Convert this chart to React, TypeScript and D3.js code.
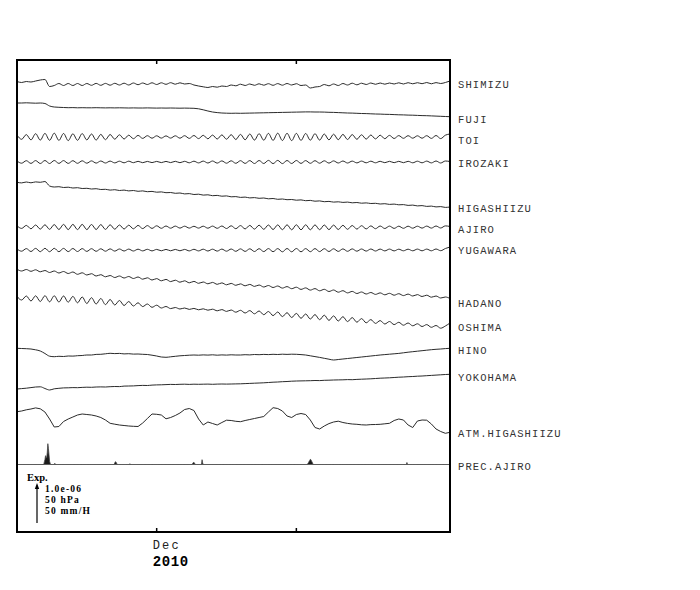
import React from 'react';
import * as d3 from 'd3';

// ---- time axis ----
const START = new Date(2010, 10, 21, 0, 0);
const END = new Date(2010, 11, 22, 0, 0);
const STEP_HOURS = 8;
const tickDates = [new Date(2010, 11, 1), new Date(2010, 11, 11)];
const monthLabel = 'Dec';
const yearLabel = '2010';

// ---- scale bar ----
const scaleTitle = 'Exp.';
const scaleLabels = ['1.0e-06', '50 hPa', '50 mm/H'];
const SCALE_UNITS = 40; // series values are in units of 1/40 of the scale bar

// ---- station names ----
const stations = ['SHIMIZU', 'FUJI', 'TOI', 'IROZAKI', 'HIGASHIIZU', 'AJIRO', 'YUGAWARA', 'HADANO', 'OSHIMA', 'HINO', 'YOKOHAMA', 'ATM.HIGASHIIZU', 'PREC.AJIRO'];

// ---- series (8-hourly samples) ----
const shimizu = [
  3.5, 2.5, 3.5, 3, 4, 5, 5.5, -1.5, -0.5, 1.5,
  -0.5, 1.5, -0.5, 1.5, -0.5, 1.5, -0.3, 1.6, -0.3, 1.6,
  -0.2, 1.7, 0, 1.8, 0, 2, 0.3, 2, 0.5, 2.2,
  0.5, 2.2, 0.7, 2.3, 0.8, 2.2, 1, 1.5, 0, -1,
  -1.8, -2.5, -1.5, -2.2, -1, -1.5, 0, -0.8, 0.8, -0.5,
  1, -0.3, 1.2, -0.2, 1.3, -0.3, 1.4, -0.2, 1.5, 0,
  1.3, -0.5, 0, -3, -2, -1.5, 0.5, -0.8, 1, -0.5,
  1.5, 0, 1.8, 0.2, 1.8, 0.5, 2, 0.7, 2, 0.8,
  2, 1, 2.2, 1, 2.3, 1.2, 2.3, 1.3, 2.5, 1.2,
  2.4, 1.5, 2.5, 4,
];
const fuji = [
  -1, -1, -0.8, -1, -1.2, -1, -1.5, -4, -5, -5.3,
  -5.5, -5.7, -5.6, -5.8, -5.7, -5.8, -5.8, -5.7, -5.8, -5.9,
  -5.8, -5.9, -5.8, -5.9, -6, -5.9, -6, -6, -5.9, -6,
  -6.1, -6, -6.1, -6, -6.1, -6.2, -6.1, -6.2, -6.3,
  -6.8, -7.8, -9, -10, -10.6, -11, -11.2,
  -11.3, -11.2, -11.3, -11.2,
  -11.1, -11, -10.9, -10.8, -10.7, -10.6, -10.5, -10.4, -10.3, -10.2,
  -10.1, -10, -9.9, -9.9, -10, -10,
  -10.1, -10.3, -10.4, -10.6, -10.8, -11, -11.1, -11.3, -11.5, -11.6,
  -11.8, -12, -12.1, -12.3, -12.4, -12.6, -12.8, -12.9, -13.1, -13.2,
  -13.4, -13.6, -13.7, -13.9, -14.1, -14.3, -14.5, -14.7,
];
const toi = [
  2, -2.3, 2.4, -2.9, 3.3, -3.1, 3.6, -3.3, 3.8, -3.4,
  3.5, -3.6, 3.2, -3.3, 3.4, -2.9, 3, -3.1, 2.6, -2.7,
  2.5, -2.2, 2.2, -2, 1.8, -1.7, 1.6, -1.4, 1.3, -1.2,
  1.2, -1.1, 1.1, -1.1, 1.2, -1.2, 1.3, -1.4, 1.5, -1.6,
  1.7, -1.8, 1.9, -2, 2.1, -2.2, 2.3, -2.5, 2.6, -2.8,
  3, -3.1, 3.3, -3.2, 3.6, -3.4, 3.8, -3.5, 3.7, -3.6,
  3.6, -3.4, 3.5, -3.2, 3.3, -3.1, 3, -2.9, 2.8, -2.7,
  2.6, -2.5, 2.4, -2.3, 2.2, -2.1, 2, -1.9, 1.8, -1.7,
  1.6, -1.5, 1.4, -1.3, 1.3, -1.2, 1.2, -1.2, 1.3, -1.4,
  1.5, -1.6, 1.8, 3,
];
const irozaki = [
  1, -1.2, 1.3, -1.4, 1.4, -1.5, 1.5, -1.5, 1.5, -1.4,
  1.4, -1.4, 1.3, -1.3, 1.2, -1.2, 1.1, -1.1, 1, -1,
  0.9, -0.9, 0.8, -0.8, 0.8, -0.7, 0.7, -0.7, 0.6, -0.6,
  0.6, -0.6, 0.6, -0.6, 0.7, -0.7, 0.7, -0.8, 0.8, -0.9,
  0.9, -1, 1, -1.1, 1.1, -1.2, 1.2, -1.3, 1.3, -1.4,
  1.4, -1.5, 1.5, -1.5, 1.6, -1.6, 1.6, -1.6, 1.5, -1.5,
  1.5, -1.4, 1.4, -1.3, 1.3, -1.2, 1.2, -1.1, 1.1, -1,
  1, -1, 0.9, -0.9, 0.9, -0.8, 0.8, -0.8, 0.7, -0.7,
  0.7, -0.7, 0.7, -0.7, 0.7, -0.8, 0.8, -0.8, 0.9, -0.9,
  1, -1, 1, 0.5,
];
const higashiizu = [
  0.2, -0.4, 0.5, -0.3, 0.6, 0.2, 1, -3.5, -4.5, -4.2,
  -5, -4.7, -5.5, -5.2, -6, -5.8, -6.5, -6.2, -7, -6.8,
  -7.6, -7.2, -8, -7.6, -8.4, -8, -8.8, -8.4, -9.2, -8.9,
  -9.7, -9.4, -10.2, -10, -10.8, -10.5, -11.4, -11.1, -12, -11.7,
  -12.6, -12.3, -13.2, -12.9, -13.7, -13.4, -14.3, -14.1, -14.9, -14.6,
  -15.4, -15.1, -15.8, -15.5, -16.3, -16, -16.8, -16.5, -17.2, -17,
  -17.7, -17.4, -18.2, -17.9, -18.7, -18.4, -19.2, -18.9, -19.6, -19.3,
  -19.9, -19.6, -20.3, -20, -20.7, -20.4, -21, -20.8, -21.5, -21.2,
  -21.9, -21.6, -22.3, -22.1, -22.9, -22.6, -23.4, -23.1, -23.9, -23.6,
  -24.4, -24.1, -24.9, -24.5,
];
const ajiro = [
  1.2, -1.4, 1.6, -1.8, 2, -2.1, 2.2, -2.3, 2.4, -2.5,
  2.6, -2.6, 2.6, -2.6, 2.6, -2.6, 2.5, -2.5, 2.4, -2.4,
  2.2, -2.2, 2, -2, 1.8, -1.8, 1.6, -1.6, 1.4, -1.4,
  1.2, -1.3, 1, -1.2, 0.9, -1.1, 0.8, -1.1, 0.7, -1.1,
  0.8, -1.2, 0.9, -1.3, 1, -1.5, 1.2, -1.7, 1.4, -1.9,
  1.6, -2.1, 1.8, -2.3, 2, -2.5, 2.1, -2.7, 2.2, -2.8,
  2.2, -2.8, 2.2, -2.8, 2.1, -2.7, 2, -2.6, 1.9, -2.5,
  1.7, -2.3, 1.5, -2.1, 1.3, -1.9, 1.1, -1.7, 1, -1.5,
  0.9, -1.4, 0.8, -1.3, 0.8, -1.2, 0.8, -1.1, 0.9, -1.1,
  1, -1, 1.1, 0.5,
];
const yugawara = [
  1, -1.2, 1.4, -1.5, 1.6, -1.7, 1.7, -1.7, 1.7, -1.7,
  1.6, -1.6, 1.5, -1.5, 1.4, -1.4, 1.3, -1.3, 1.2, -1.2,
  1.1, -1.1, 1, -1, 0.9, -1, 0.8, -0.9, 0.7, -0.9,
  0.6, -0.8, 0.6, -0.8, 0.6, -0.8, 0.6, -0.9, 0.7, -0.9,
  0.8, -1, 0.8, -1.1, 0.9, -1.2, 1, -1.3, 1.1, -1.4,
  1.2, -1.5, 1.3, -1.6, 1.4, -1.7, 1.4, -1.8, 1.5, -1.8,
  1.5, -1.8, 1.4, -1.7, 1.4, -1.6, 1.3, -1.5, 1.2, -1.4,
  1.1, -1.3, 1.1, -1.2, 1, -1.1, 1, -1, 0.9, -0.9,
  0.9, -0.9, 0.8, -0.8, 0.8, -0.8, 0.9, -0.8, 0.9, -0.8,
  1, -0.7, 1.5, 3,
];
const hadano = [
  0.8, -1, 0.5, -1.3, 0.2, -1.8, -0.5, -2.5, -1, -3,
  -1.5, -3.5, -2, -4.3, -2.8, -5, -3.7, -6, -4.7, -6.8,
  -5.5, -7.5, -6, -8, -6.5, -8.5, -7, -9.2, -7.8, -10,
  -8.6, -10.8, -9.4, -11.6, -10.2, -12.2, -10.8, -12.8, -11.4, -13.3,
  -12, -13.8, -12.4, -14.3, -12.9, -14.8, -13.4, -15.3, -13.9, -15.8,
  -14.4, -16.4, -15, -17, -15.5, -17.5, -16, -18.1, -16.6, -18.7,
  -17.2, -19.4, -17.9, -20.1, -18.6, -20.8, -19.3, -21.5, -20, -22.2,
  -20.7, -22.9, -21.4, -23.5, -22, -24, -22.5, -24.4, -22.9, -24.8,
  -23.3, -25.2, -23.7, -25.6, -24.1, -26, -24.6, -26.5, -25.2, -27.2,
  -26, -28, -27, -28.5,
];
const oshima = [
  1.5, -2, 2, -3, 2.2, -3.5, 2.3, -3.8, 2.2, -4,
  2, -4.2, 1.6, -4.8, 1, -5.5, 0.3, -6, -0.5, -6.6,
  -1.5, -7, -2.5, -7.5, -3.5, -8, -4.8, -8.6, -6, -9.3,
  -7.2, -10, -8.5, -10.6, -9.5, -11, -10, -11.4, -10.4, -11.8,
  -10.8, -12.2, -11.2, -12.8, -11.6, -13.4, -12, -14.2, -12.3, -15,
  -12.6, -15.8, -13, -16.7, -13.5, -17.6, -14, -18.6, -14.7, -19.5,
  -15.4, -20.3, -16, -21, -16.6, -21.7, -17.2, -22.4, -17.9, -23,
  -18.7, -23.6, -19.6, -24.2, -20.6, -24.8, -21.6, -25.4, -22.6, -26,
  -23.5, -26.6, -24.3, -27.2, -25, -27.8, -25.8, -28.5, -26.6, -29.3,
  -27.5, -30.2, -28, -25,
];
const hino = [
  0.7, 0.5, 0.3, 0, -0.8, -2, -4.5, -7.2, -7.7, -7.3,
  -7.5, -7, -7.1, -6.7, -6.5, -6, -6, -5.4, -5.3, -4.8,
  -4.3, -4.6, -4.4, -4.9, -4.7, -5.1, -5, -5.3, -5.5, -6.2,
  -7, -8, -8.3, -7.8, -7.3, -6.8, -6.5, -6.2, -6, -6.2,
  -5.9, -6.1, -5.8, -6.2, -5.9, -6.1, -5.8, -6, -6, -5.7,
  -5.9, -5.5, -5.7, -5.4, -5.6, -5.3, -5.5, -5.2, -5.4, -5.2,
  -5.3, -5.6, -6, -6.8, -7.6, -8.4, -9.3, -10.2, -11, -10.5,
  -10, -9.5, -9, -8.5, -8, -7.5, -7, -6.5, -6, -5.6,
  -5.2, -4.8, -4.4, -3.8, -3.2, -2.7, -2.2, -1.7, -1.2, -0.7,
  -0.3, 0, 0.4, 0.7,
];
const yokohama = [
  -1, -0.6, -0.2, 0.4, 1, 1.2, -0.5, -2, -0.8, -0.3,
  0.1, 0.2, 0.4, 0.3, 0.6, 0.8, 0.7, 1, 1.1, 1,
  1.3, 1.5, 1.4, 1.9, 2, 2.1, 2.4, 2.6, 2.5, 2.9,
  3.1, 3.2, 3.4, 3.6, 3.5, 3.7, 3.8, 3.6, 3.8, 3.7,
  3.8, 3.9, 3.7, 3.9, 4, 3.9, 4, 4.1, 4.2, 4.4,
  4.6, 4.8, 5, 5.2, 5.5, 5.8, 6, 6.3, 6.5, 6.8,
  7, 7.1, 7.2, 7.3, 7.5, 7.4, 7.7, 7.8, 8, 8.1,
  8.2, 8.4, 8.3, 8.6, 8.8, 9, 9.2, 9.5, 9.8, 10,
  10.2, 10.5, 10.8, 11, 11.3, 11.5, 11.8, 12, 12.3, 12.6,
  12.9, 13.2, 13.5, 13.7,
];
const atmHigashiizu = [
  8.3, 9, 10.2, 11, 12.1, 11.2, 8, 1, -7, -6.5,
  -1.5, 1, 3, 5, 6, 5.5, 5, 4, 2.5, 0,
  -3.3, -4.2, -5, -5.5, -6, -6.3, -6.5, -3, 1.5, 6,
  5.7, 5, 1.2, 2.5, 4.5, 7, 10.5, 11.5, 9.5, 1,
  -5, -2, -3.5, -5, -2.5, -0.2, -0.5, -1.3, -1.7, -0.5,
  0.5, 1.5, 2.5, 3.5, 8, 12.3, 11.5, 9, 4, 2.5,
  5.5, 6.5, 5.5, 0, -7.5, -9, -6, -3.6, -2, -1.2,
  -2.5, -3.4, -4, -4.3, -4.8, -5, -4.6, -4.5, -4.3, -3.8,
  -3.3, -0.5, 1, 0, -5, -7.5, -1, 0, -0.2, -4,
  -9, -11.5, -13.3, -12.3,
];

// ---- precipitation (hourly, mm/H; hours from start, zero elsewhere) ----
const precHours = [47, 48, 49, 50, 51, 52, 53, 54, 55, 56, 57, 65, 168, 169, 170, 171, 194, 302, 303, 304, 305, 318, 319, 500, 501, 502, 503, 504, 505, 506, 507, 508, 670];
const precValues = [3.5, 6, 11, 9, 8, 15, 26, 20, 12, 4, 1.5, 1.5, 2, 3.5, 3, 2, 1, 1.5, 2.5, 2.5, 2, 6, 2, 1.5, 2.5, 4, 5, 6.5, 6, 4.5, 3, 1.5, 2.5];

const seriesList = [shimizu, fuji, toi, irozaki, higashiizu, ajiro, yugawara, hadano, oshima, hino, yokohama, atmHigashiizu];

export default function App() {
  const W = 700, H = 590;
  const left = 17, right = 450, top = 60, bottom = 532;
  const baseY = [85, 102, 137, 162, 182.5, 227, 250, 270, 298, 349, 388, 420];
  const precBase = 464.5;
  const labelY = [87.5, 122.7, 143.5, 166.7, 211.7, 233.3, 254.3, 306.7, 330.7, 354, 380.7, 437.3, 470];
  const barLen = 40;

  const x = d3.scaleTime().domain([START, END]).range([left, right]);
  const unitPx = d3.scaleLinear().domain([0, SCALE_UNITS]).range([0, barLen]);
  const precPx = d3.scaleLinear().domain([0, 50]).range([0, barLen]);
  const tAt = (i: number, stepH: number) => new Date(START.getTime() + i * stepH * 3600 * 1000);

  const paths = seriesList.map((s, k) => {
    const line = d3.line<number>()
      .x((_, i) => x(tAt(i, STEP_HOURS)))
      .y((v) => baseY[k] - unitPx(v))
      .curve(k === 11 ? d3.curveLinear : d3.curveMonotoneX);
    return line(s) || '';
  });

  const totalHours = Math.round((END.getTime() - START.getTime()) / 3600000);
  const precFull: number[] = d3.range(totalHours + 1).map(() => 0);
  precHours.forEach((h, j) => { precFull[h] = precValues[j]; });
  const precArea = d3.area<number>()
    .x((_, i) => x(tAt(i, 1)))
    .y0(precBase)
    .y1((v) => precBase - precPx(v))(precFull) || '';

  const mono = '"Liberation Mono", "DejaVu Sans Mono", monospace';
  const serif = '"Liberation Serif", "DejaVu Serif", serif';

  return (
    <svg width={W} height={H} style={{ position: 'absolute', left: 0, top: 0, background: '#fff' }}>
      <defs>
        <clipPath id="plotClip">
          <rect x={left} y={top} width={right - left} height={bottom - top} />
        </clipPath>
      </defs>
      <rect x={0} y={0} width={W} height={H} fill="#fff" />
      <g clipPath="url(#plotClip)">
        {paths.map((d, k) => (
          <path key={k} d={d} fill="none" stroke="#2a2a2a" strokeWidth={1} />
        ))}
        <path d={precArea} fill="#1a1a1a" stroke="#444" strokeWidth={0.8} />
      </g>
      <rect x={left} y={top} width={right - left} height={bottom - top} fill="none" stroke="#000" strokeWidth={2} />
      {tickDates.map((d, i) => (
        <g key={i}>
          <line x1={x(d)} x2={x(d)} y1={top} y2={top + 4} stroke="#000" strokeWidth={1.5} />
          <line x1={x(d)} x2={x(d)} y1={bottom} y2={bottom - 4} stroke="#000" strokeWidth={1.5} />
        </g>
      ))}
      <text x={x(tickDates[0]) - 4} y={549} fontFamily={mono} fontSize={12} letterSpacing={2.2} fill="#222">{monthLabel}</text>
      <text x={x(tickDates[0]) - 4} y={566} fontFamily={mono} fontSize={14} fontWeight="bold" letterSpacing={0.6} fill="#000">{yearLabel}</text>
      {stations.map((s, k) => (
        <text key={s} x={458} y={labelY[k]} fontFamily={mono} fontSize={10.5} letterSpacing={1.1} fill="#333">{s}</text>
      ))}
      <text x={27} y={480.5} fontFamily={serif} fontSize={10.5} fontWeight="bold">{scaleTitle}</text>
      {scaleLabels.map((t, i) => (
        <text key={t} x={45} y={492.3 + i * 10.6} fontFamily={serif} fontSize={9.5} fontWeight="bold" letterSpacing={1.2}>{t}</text>
      ))}
      <line x1={37} x2={37} y1={523} y2={523 - barLen + 4} stroke="#000" strokeWidth={1.2} />
      <path d={`M37,${523 - barLen} L34.8,${523 - barLen + 6} L39.2,${523 - barLen + 6} Z`} fill="#000" />
    </svg>
  );
}
